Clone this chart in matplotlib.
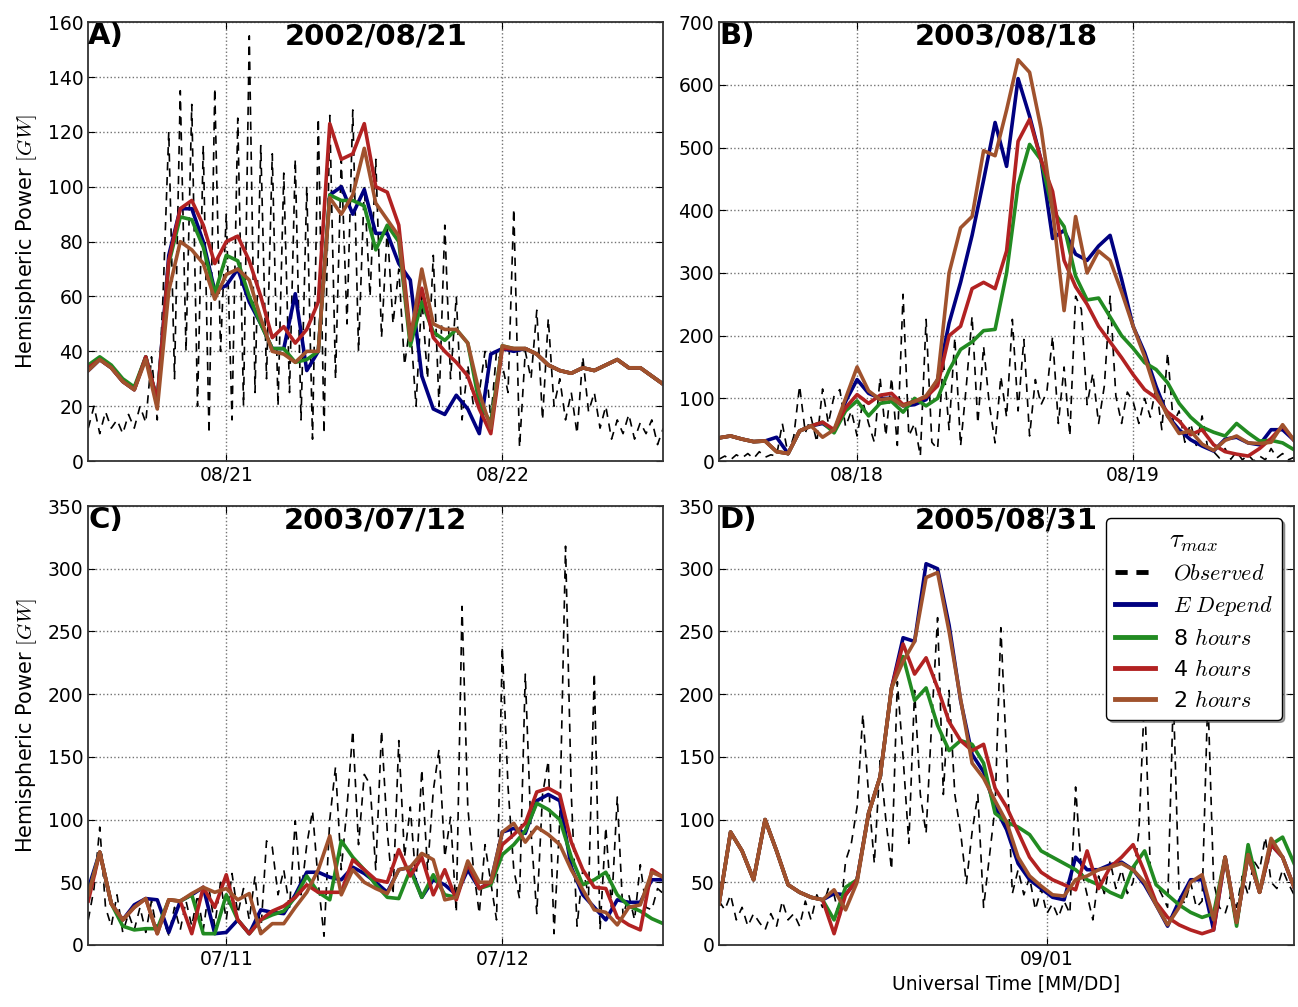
import numpy as np
import pandas as pd
import matplotlib
matplotlib.use("Agg")
from matplotlib import pyplot as plt
from matplotlib.lines import Line2D
import matplotlib.dates as mdates

plt.rcParams['font.family'] = 'DejaVu Sans'
plt.rcParams['mathtext.fontset'] = 'cm'

# hemispheric power [GW]; models hourly, observations every 30 min
a_start = "2002-08-20 12:00"
a_edep = [33, 37, 34, 29, 26, 38, 22, 75, 92, 92, 80, 62, 64, 70, 58, 50, 41, 41, 61, 33,
          40, 97, 100, 90, 99, 83, 83, 72, 66, 31, 19, 17, 24, 19, 10, 39, 41, 40, 41, 39,
          35, 33, 32, 34, 33, 35, 37, 34, 34, 31, 28]
a_8h = [35, 38, 35, 30, 27, 38, 22, 72, 89, 88, 78, 61, 75, 73, 60, 50, 41, 41, 36, 37,
        40, 97, 95, 95, 93, 77, 86, 80, 42, 58, 47, 44, 48, 43, 21, 14, 42, 41, 41, 39,
        35, 33, 32, 34, 33, 35, 37, 34, 34, 31, 28]
a_4h = [34, 37, 34, 29, 26, 38, 22, 73, 92, 95, 86, 72, 80, 82, 73, 60, 45, 49, 43, 48,
        58, 123, 110, 112, 123, 100, 98, 86, 46, 63, 45, 40, 36, 31, 19, 10, 41, 41, 41, 39,
        35, 33, 32, 34, 33, 35, 37, 34, 34, 31, 28]
a_2h = [33, 37, 34, 29, 26, 37, 19, 62, 80, 77, 72, 59, 68, 70, 66, 52, 40, 39, 36, 40,
        40, 96, 90, 97, 114, 94, 88, 82, 44, 70, 50, 48, 48, 43, 25, 12, 42, 41, 41, 39,
        35, 33, 32, 34, 33, 35, 37, 34, 34, 31, 28]
a_obs = [12, 20, 10, 18, 12, 15, 10, 17, 12, 20, 14, 38,
         15, 60, 120, 30, 135, 40, 130, 20, 115, 10, 136, 40, 90, 15, 125, 20, 155, 25, 115, 30,
         112, 20, 105, 25, 110, 15, 100, 8, 125, 10, 126, 30, 110, 50, 128, 40, 100, 60, 110, 45,
         85, 50, 70, 35, 50, 20, 60, 30, 75, 20, 86, 30, 60, 15, 35, 20, 25, 40, 15, 40,
         35, 25, 92, 5, 40, 30, 55, 15, 52, 20, 30, 15, 25, 10, 38, 18, 25, 12, 20, 8,
         15, 10, 17, 8, 14, 10, 15, 6, 12]

b_start = "2003-08-17 12:00"
b_edep = [37, 40, 35, 31, 32, 38, 12, 48, 56, 60, 48, 95, 130, 108, 100, 100, 88, 90, 98, 130,
          220, 285, 360, 448, 540, 470, 610, 550, 480, 355, 368, 330, 320, 343, 360, 290, 215, 173, 119, 72,
          50, 34, 24, 16, 35, 38, 29, 26, 50, 50, 33]
b_8h = [37, 40, 35, 31, 32, 15, 12, 48, 56, 62, 45, 80, 96, 72, 92, 95, 78, 100, 88, 100,
        145, 178, 190, 208, 210, 300, 440, 505, 480, 400, 374, 295, 257, 260, 230, 200, 180, 157, 146, 125,
        92, 70, 54, 46, 40, 60, 45, 32, 33, 29, 18]
b_4h = [37, 40, 35, 31, 32, 15, 12, 48, 56, 62, 50, 85, 106, 92, 105, 108, 90, 95, 102, 120,
        200, 215, 275, 285, 275, 335, 510, 545, 480, 430, 320, 278, 250, 215, 190, 165, 138, 114, 101, 78,
        64, 42, 50, 26, 15, 11, 8, 20, 36, 56, 33]
b_2h = [37, 40, 35, 31, 32, 15, 12, 48, 56, 38, 50, 100, 150, 112, 98, 100, 88, 95, 104, 130,
        300, 372, 390, 495, 487, 560, 640, 620, 530, 400, 240, 390, 300, 335, 320, 270, 215, 167, 109, 72,
        44, 48, 27, 17, 33, 40, 29, 28, 30, 58, 33]
b_obs = [3, 8, 2, 10, 5, 12, 4, 15, 6, 10, 8, 60, 10, 40, 120, 45, 70, 30, 115, 60,
         104, 114, 55, 80, 40, 95, 60, 30, 133, 40, 133, 25, 266, 40, 60, 8, 226, 30, 19, 162,
         50, 197, 24, 120, 231, 60, 183, 90, 29, 135, 70, 226, 80, 194, 40, 130, 90, 110, 199, 60,
         150, 40, 263, 242, 90, 140, 60, 120, 263, 104, 60, 110, 95, 60, 100, 70, 120, 50, 173, 60,
         80, 30, 60, 25, 72, 20, 15, 5, 20, 3, 15, 2, 10, 0, 8, 2, 20, 5, 12, 2, 6]

c_start = "2003-07-10 12:00"
c_edep = [45, 74, 33, 20, 32, 37, 36, 10, 35, 40, 46, 9, 10, 20, 9, 28, 26, 25, 40, 58,
          58, 54, 52, 62, 57, 50, 42, 60, 62, 38, 52, 48, 40, 60, 45, 50, 90, 93, 89, 115,
          120, 115, 62, 40, 30, 20, 36, 34, 34, 52, 52]
c_8h = [40, 74, 33, 15, 12, 13, 13, 36, 35, 40, 9, 9, 40, 20, 9, 20, 24, 27, 38, 55,
        42, 36, 83, 70, 60, 48, 38, 37, 60, 38, 56, 40, 38, 65, 45, 48, 72, 80, 91, 113,
        108, 100, 70, 48, 52, 58, 40, 31, 27, 21, 17]
c_4h = [35, 74, 33, 20, 30, 37, 9, 36, 35, 9, 46, 30, 56, 20, 9, 20, 27, 31, 38, 48,
        42, 42, 42, 68, 60, 52, 50, 76, 55, 70, 40, 60, 36, 65, 45, 50, 80, 88, 97, 122,
        125, 120, 82, 60, 46, 45, 22, 16, 12, 60, 54]
c_2h = [40, 74, 33, 20, 30, 37, 9, 36, 35, 41, 46, 42, 45, 36, 41, 9, 17, 17, 30, 42,
        60, 87, 40, 60, 50, 45, 41, 60, 62, 73, 68, 36, 38, 67, 50, 50, 90, 97, 82, 94,
        88, 80, 60, 44, 28, 26, 16, 30, 32, 58, 54]
c_obs = [20, 45, 94, 30, 15, 40, 10, 25, 12, 30, 10, 35, 10, 20, 8, 30, 12, 35, 15, 40,
         12, 45, 15, 50, 20, 57, 25, 45, 20, 55, 10, 83, 78, 40, 60, 30, 99, 40, 80, 107,
         50, 7, 100, 142, 60, 110, 171, 80, 136, 128, 60, 171, 90, 40, 163, 70, 110, 50, 140, 60,
         123, 156, 70, 102, 26, 270, 110, 60, 25, 80, 50, 20, 238, 126, 60, 37, 216, 90, 25, 120,
         147, 9, 100, 318, 120, 15, 60, 40, 217, 12, 94, 30, 118, 23, 40, 20, 64, 30, 28, 45, 41]

d_start = "2005-08-30 19:30"
d_edep = [33, 90, 75, 52, 100, 75, 48, 42, 38, 36, 41, 40, 52, 105, 134, 205, 245, 242, 304, 300,
          255, 195, 152, 138, 110, 92, 65, 52, 45, 38, 36, 70, 60, 60, 64, 66, 60, 48, 32, 15,
          35, 52, 52, 12, 70, 18, 72, 42, 80, 70, 46]
d_8h = [33, 90, 75, 52, 100, 75, 48, 42, 38, 36, 20, 46, 52, 105, 134, 205, 230, 195, 205, 175,
        155, 163, 160, 145, 105, 98, 94, 88, 75, 70, 65, 60, 52, 48, 42, 38, 62, 75, 48, 40,
        32, 26, 22, 25, 70, 15, 80, 42, 80, 86, 65]
d_4h = [33, 90, 75, 52, 100, 75, 48, 42, 38, 36, 9, 40, 52, 105, 134, 205, 240, 216, 229, 205,
        178, 163, 155, 160, 125, 110, 90, 70, 58, 52, 48, 44, 75, 45, 62, 70, 80, 58, 34, 22,
        16, 12, 9, 12, 70, 18, 72, 42, 80, 70, 46]
d_2h = [33, 90, 75, 52, 100, 75, 48, 42, 38, 36, 44, 28, 50, 105, 134, 205, 226, 242, 293, 297,
        250, 196, 145, 133, 115, 98, 70, 55, 47, 40, 39, 52, 55, 60, 62, 65, 60, 50, 32, 16,
        30, 50, 56, 20, 70, 18, 72, 42, 85, 70, 46]
d_obs = [35, 28, 40, 20, 30, 15, 25, 18, 12, 25, 15, 35, 20, 25, 15, 35, 20, 40, 30, 45,
         40, 20, 67, 81, 110, 184, 120, 65, 147, 100, 60, 210, 150, 81, 203, 120, 89, 180, 261, 120,
         203, 120, 90, 49, 90, 120, 30, 70, 110, 253, 150, 41, 60, 40, 54, 28, 45, 25, 33, 22,
         35, 25, 126, 60, 40, 20, 55, 41, 67, 45, 60, 41, 50, 90, 200, 60, 49, 40, 30, 200,
         40, 33, 50, 30, 35, 200, 50, 30, 25, 40, 30, 55, 40, 67, 60, 86, 50, 45, 60, 49, 40]

panels = [
    ("A)", "2002/08/21", a_start, a_obs, [a_edep, a_8h, a_4h, a_2h], 160, 20, ["2002-08-21", "2002-08-22"]),
    ("B)", "2003/08/18", b_start, b_obs, [b_edep, b_8h, b_4h, b_2h], 700, 100, ["2003-08-18", "2003-08-19"]),
    ("C)", "2003/07/12", c_start, c_obs, [c_edep, c_8h, c_4h, c_2h], 350, 50, ["2003-07-11", "2003-07-12"]),
    ("D)", "2005/08/31", d_start, d_obs, [d_edep, d_8h, d_4h, d_2h], 350, 50, ["2005-09-01"]),
]
model_colors = ["#000080", "#228B22", "#B22222", "#A0522D"]
model_labels = [r"$E\ Depend$", r"8 $hours$", r"4 $hours$", r"2 $hours$"]

fig, axes = plt.subplots(2, 2, figsize=(12.98, 10.07), dpi=100)
fig.subplots_adjust(left=0.068, right=0.997, bottom=0.0616, top=0.978,
                    wspace=0.097, hspace=0.1025)

for ax, (tag, title, start, obs, models, ymax, ystep, days) in zip(axes.flat, panels):
    t_obs = pd.date_range(start, periods=len(obs), freq="30min")
    t_mod = pd.date_range(start, periods=len(models[0]), freq="h")

    ax.plot(t_obs, obs, color="k", lw=1.2, ls="--", dashes=(5, 4))
    for vals, col in zip(models, model_colors):
        ax.plot(t_mod, vals, color=col, lw=2.6)

    ax.set_xlim(t_mod[0], t_mod[-1])
    ax.set_ylim(0, ymax)
    ax.set_yticks(np.arange(0, ymax + 1, ystep))
    ax.set_xticks(pd.to_datetime(days))
    ax.xaxis.set_major_formatter(mdates.DateFormatter("%m/%d"))
    ax.grid(True, color="0.45", linestyle=":", linewidth=1.0)
    ax.tick_params(direction="in", length=5, top=True, right=True, labelsize=13.5)
    for sp in ax.spines.values():
        sp.set_linewidth(1.3)
        sp.set_color("0.2")

    ax.text(0.0, 1.0, tag, transform=ax.transAxes, ha="left", va="top",
            fontsize=21, fontweight="bold")
    ax.text(0.5, 1.0, title, transform=ax.transAxes, ha="center", va="top",
            fontsize=21, fontweight="bold")

for ax in axes[:, 0]:
    ax.set_ylabel(r"Hemispheric Power $[GW]$", fontsize=15, labelpad=6)
axes[1, 1].set_xlabel("Universal Time [MM/DD]", fontsize=13.5)

handles = [Line2D([], [], color="k", lw=3.5, ls="--", dashes=(2.5, 1.8))]
handles += [Line2D([], [], color=c, lw=3.5) for c in model_colors]
leg = axes[1, 1].legend(handles, [r"$Observed$"] + model_labels, loc="upper right",
                        title=r"$\tau_{max}$", fontsize=16, title_fontsize=19,
                        fancybox=True, shadow=True, framealpha=1, handlelength=1.8,
                        borderaxespad=0.55, labelspacing=0.45)
leg.get_frame().set_edgecolor("k")

fig.savefig("out.png", dpi=100)
